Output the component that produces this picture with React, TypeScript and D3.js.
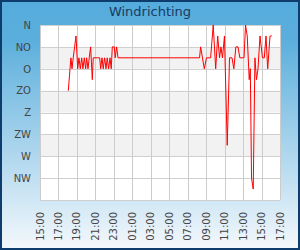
import * as d3 from 'd3';
import { useRef, useEffect } from 'react';

// Tijdas (twee uur per stap, over middernacht heen)
const timeLabels = [
  '15:00', '17:00', '19:00', '21:00', '23:00', '01:00', '03:00',
  '05:00', '07:00', '09:00', '11:00', '13:00', '15:00', '17:00',
];

// Windrichtingen op de y-as (graden)
const dirLabels = ['N', 'NO', 'O', 'ZO', 'Z', 'ZW', 'W', 'NW'];
const dirValues = [0, 45, 90, 135, 180, 225, 270, 315];

// Metingen
const times = [
  '18:04', '18:15', '18:21', '18:28', '18:36', '18:45', '18:54', '19:05',
  '19:13', '19:22', '19:31', '19:39', '19:48', '19:57', '20:03', '20:12',
  '20:20', '20:29', '20:40', '20:46', '21:28', '21:34', '21:43', '21:51',
  '22:00', '22:09', '22:17', '22:26', '22:35', '22:43', '22:50', '23:03',
  '23:09', '23:18', '23:27', '08:17', '08:24', '08:48', '09:02', '09:29',
  '09:46', '10:02', '10:15', '10:27', '10:36', '10:46', '10:59', '11:17',
  '11:32', '11:48', '12:00', '12:13', '12:27', '12:39', '13:06', '13:16',
  '13:27', '13:40', '13:47', '13:55', '14:06', '14:17', '14:27', '14:37',
  '14:50', '15:06', '15:18', '15:29', '15:40', '15:55', '16:06',
];
const directions = [
  135, 90, 67.5, 90, 67.5, 45, 22.5, 90,
  67.5, 90, 67.5, 90, 67.5, 90, 67.5, 90,
  67.5, 45, 112.5, 67.5, 67.5, 90, 67.5, 90,
  67.5, 90, 67.5, 90, 67.5, 90, 45, 45,
  67.5, 45, 67.5, 67.5, 45, 90, 67.5, 67.5,
  0, 90, 22.5, 67.5, 45, 67.5, 22.5, 247.5,
  67.5, 67.5, 90, 45, 45, 67.5, 67.5, 0,
  22.5, 112.5, 90, 315, 337.5, 67.5, 112.5, 90,
  22.5, 67.5, 67.5, 22.5, 90, 22.5, 22.5,
];

// 'HH:MM' -> Date, met dagovergang als de tijd terugloopt
const toDates = (list: string[]) => {
  let day = 0;
  let prev = -1;
  return list.map((s) => {
    const [h, m] = s.split(':').map(Number);
    const mins = h * 60 + m;
    if (mins < prev) day++;
    prev = mins;
    return new Date(2024, 0, 1 + day, h, m);
  });
};

const WindChart = () => {
  const svgRef = useRef<SVGSVGElement | null>(null);

  useEffect(() => {
    const width = 300;
    const height = 250;
    const margin = { top: 25, right: 20, bottom: 50, left: 40 };
    const innerWidth = width - margin.left - margin.right;
    const innerHeight = height - margin.top - margin.bottom;

    const tickDates = toDates(timeLabels);
    const dates = toDates(times);

    const xScale = d3
      .scaleTime()
      .domain([tickDates[0], tickDates[tickDates.length - 1]])
      .range([0, innerWidth]);
    const yScale = d3.scaleLinear().domain([0, 360]).range([0, innerHeight]);

    d3.select(svgRef.current).selectAll('*').remove();

    const root = d3
      .select(svgRef.current)
      .attr('width', width)
      .attr('height', height)
      .style('position', 'absolute')
      .style('left', 0)
      .style('top', 0)
      .style('font-family', '"DejaVu Sans", sans-serif');

    // Achtergrond verloop
    const grad = root
      .append('defs')
      .append('linearGradient')
      .attr('id', 'bg')
      .attr('x1', 0)
      .attr('y1', 0)
      .attr('x2', 0)
      .attr('y2', 1);
    grad.append('stop').attr('offset', '0%').attr('stop-color', '#55acdc');
    grad.append('stop').attr('offset', '15%').attr('stop-color', '#5aaedc');
    grad.append('stop').attr('offset', '100%').attr('stop-color', '#f4f8fc');

    root
      .append('rect')
      .attr('x', 1)
      .attr('y', 1)
      .attr('width', width - 2)
      .attr('height', height - 2)
      .attr('fill', 'url(#bg)')
      .attr('stroke', '#0e3c6c')
      .attr('stroke-width', 2);

    // Titel
    root
      .append('text')
      .attr('x', width / 2)
      .attr('y', 16)
      .attr('text-anchor', 'middle')
      .attr('font-size', '13px')
      .attr('fill', '#1a3a5e')
      .text('Windrichting');

    const svg = root
      .append('g')
      .attr('transform', `translate(${margin.left},${margin.top})`);

    // Plotvlak met afwisselende banden
    svg
      .append('rect')
      .attr('width', innerWidth)
      .attr('height', innerHeight)
      .attr('fill', '#ffffff');

    dirValues.forEach((v, i) => {
      if (i % 2 === 1 && i < dirValues.length - 1) {
        svg
          .append('rect')
          .attr('x', 0)
          .attr('y', yScale(v))
          .attr('width', innerWidth)
          .attr('height', yScale(v + 45) - yScale(v))
          .attr('fill', '#f2f2f2');
      }
    });

    // Rasterlijnen
    [...dirValues, 360].forEach((v) => {
      svg
        .append('line')
        .attr('x1', 0)
        .attr('x2', innerWidth)
        .attr('y1', Math.round(yScale(v)) + 0.5)
        .attr('y2', Math.round(yScale(v)) + 0.5)
        .attr('stroke', '#d0d0d0')
        .attr('stroke-width', 1);
    });

    tickDates.forEach((d) => {
      const x = Math.round(xScale(d)) + 0.5;
      svg
        .append('line')
        .attr('x1', x)
        .attr('x2', x)
        .attr('y1', 0)
        .attr('y2', innerHeight)
        .attr('stroke', '#cccccc')
        .attr('stroke-width', 1);
    });

    // Y labels
    dirLabels.forEach((label, i) => {
      svg
        .append('text')
        .attr('x', -9)
        .attr('y', yScale(dirValues[i]))
        .attr('dy', '0.38em')
        .attr('text-anchor', 'end')
        .attr('font-size', '10px')
        .attr('fill', '#454545')
        .text(label);
    });

    // X labels (gedraaid)
    tickDates.forEach((d, i) => {
      svg
        .append('text')
        .attr('transform', `translate(${xScale(d)},${innerHeight + 12}) rotate(-90)`)
        .attr('dy', '0.35em')
        .attr('text-anchor', 'end')
        .attr('font-size', '10px')
        .attr('fill', '#454545')
        .text(timeLabels[i]);
    });

    // Lijn
    const line = d3
      .line<number>()
      .x((_, i) => xScale(dates[i]))
      .y((v) => yScale(v));

    svg
      .append('path')
      .attr('d', line(directions))
      .attr('fill', 'none')
      .attr('stroke', '#ff0000')
      .attr('stroke-width', 1);
  }, []);

  return <svg ref={svgRef} />;
};

export default function App() {
  return <WindChart />;
}
